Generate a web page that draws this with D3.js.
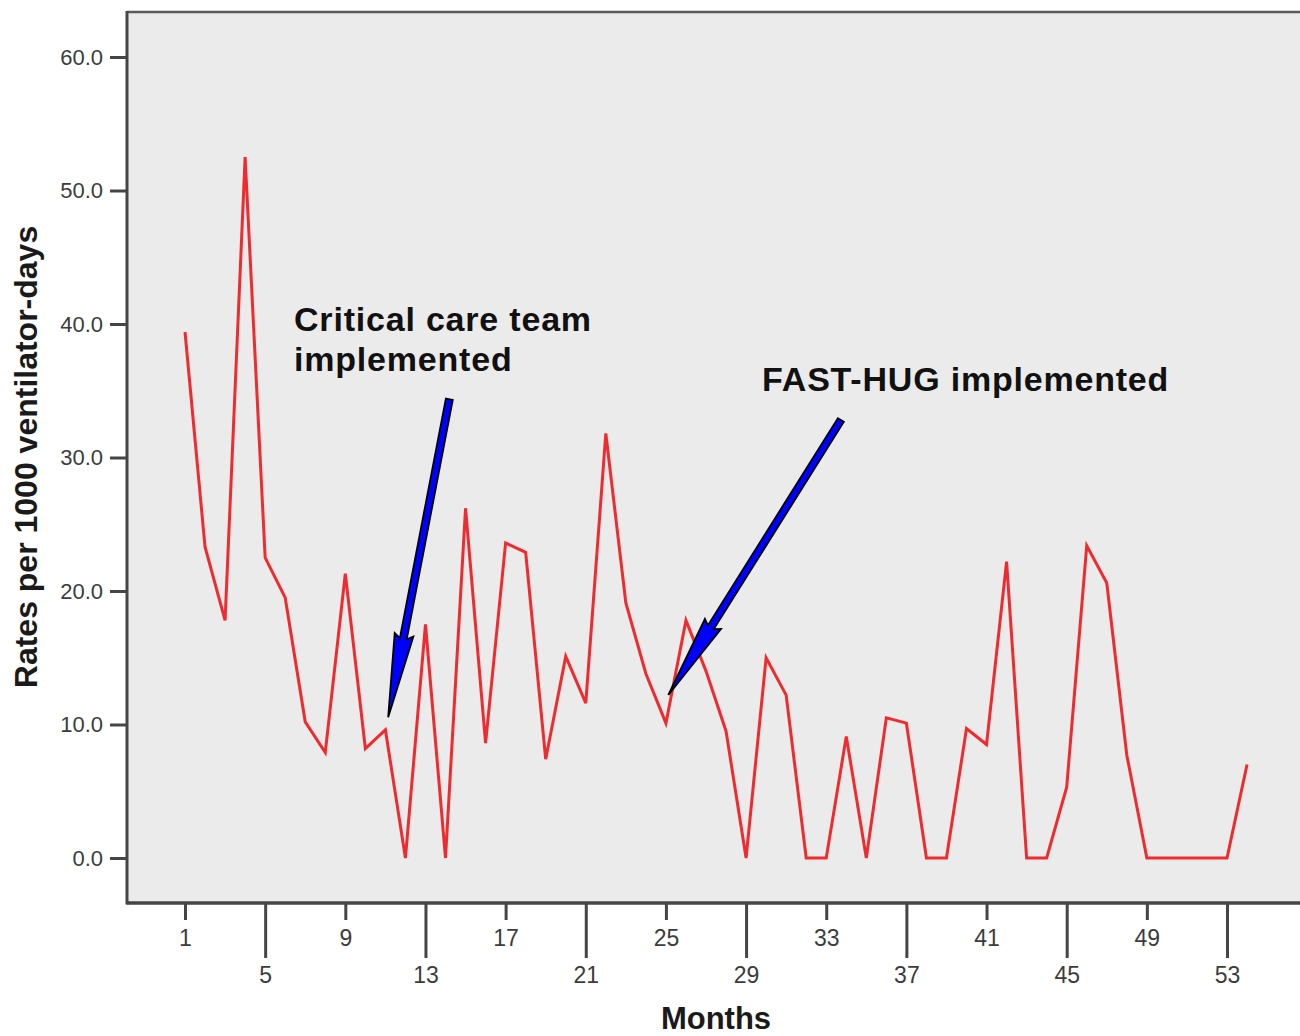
<!DOCTYPE html>
<html>
<head>
<meta charset="utf-8">
<script src="https://cdn.jsdelivr.net/npm/d3@7"></script>
<style>
  html, body { margin: 0; padding: 0; background: #ffffff; }
  svg { display: block; }
</style>
</head>
<body>
<svg id="chart" width="1300" height="1036"></svg>
<script>
// ---- data ----
const months = d3.range(1, 55);
const rates = [
  39.4, 23.3, 17.8, 52.5, 22.5, 19.5, 10.2, 7.9, 21.3, 8.2,
  9.6, 0.0, 17.5, 0.0, 26.2, 8.6, 23.6, 22.9, 7.4, 15.1,
  11.6, 31.8, 19.1, 13.8, 10.1, 17.8, 14.0, 9.5, 0.0, 15.0,
  12.2, 0.0, 0.0, 9.1, 0.0, 10.5, 10.1, 0.0, 0.0, 9.7,
  8.5, 22.2, 0.0, 0.0, 5.3, 23.4, 20.6, 7.7, 0.0, 0.0,
  0.0, 0.0, 0.0, 7.0
];
const yTicks = [0, 10, 20, 30, 40, 50, 60];
const xTicksShort = [1, 9, 17, 25, 33, 41, 49];
const xTicksLong = [5, 13, 21, 29, 37, 45, 53];
const xTitle = "Months";
const yTitle = "Rates per 1000 ventilator-days";
const annotations = [
  { lines: ["Critical care team", "implemented"], month: 6.44, value: 39.5,
    arrowFrom: [14.19, 34.36], arrowTo: [11.14, 10.54] },
  { lines: ["FAST-HUG implemented"], month: 29.8, value: 35.0,
    arrowFrom: [33.73, 32.81], arrowTo: [25.12, 12.21] }
];

// ---- layout ----
const W = 1300, H = 1036;
const plot = { left: 127, top: 12, right: 1300, bottom: 903 };
const svg = d3.select("#chart");

const x = d3.scaleLinear().domain([1, 53]).range([185, 1227]);
const y = d3.scaleLinear().domain([0, 60]).range([858, 57]);

const axisColor = "#454545";
const labelColor = "#3c3c3c";
const fontFam = "'Liberation Sans', Arial, sans-serif";

// plot background
svg.append("rect")
  .attr("x", plot.left).attr("y", plot.top)
  .attr("width", plot.right - plot.left).attr("height", plot.bottom - plot.top)
  .attr("fill", "#ebebeb");

// top border
svg.append("line")
  .attr("x1", plot.left).attr("x2", plot.right)
  .attr("y1", plot.top).attr("y2", plot.top)
  .attr("stroke", "#5a5a5a").attr("stroke-width", 2.5);

// Y axis
const yAxis = d3.axisLeft(y).tickValues(yTicks).tickFormat(d3.format(".1f"))
  .tickSize(17).tickPadding(7);
const gy = svg.append("g").attr("transform", `translate(${plot.left},0)`).call(yAxis);
gy.select(".domain").remove();
gy.selectAll(".tick line").attr("stroke", axisColor).attr("stroke-width", 3);
gy.selectAll(".tick text").attr("fill", labelColor)
  .style("font-family", fontFam).style("font-size", "22px");
svg.append("line")
  .attr("x1", plot.left).attr("x2", plot.left)
  .attr("y1", plot.top - 1).attr("y2", plot.bottom + 1.5)
  .attr("stroke", axisColor).attr("stroke-width", 3);

// X axis (two staggered rows)
const xAxisShort = d3.axisBottom(x).tickValues(xTicksShort).tickFormat(d3.format("d"))
  .tickSize(17).tickPadding(10);
const gxs = svg.append("g").attr("transform", `translate(0,${plot.bottom})`).call(xAxisShort);
gxs.select(".domain").remove();
const xAxisLong = d3.axisBottom(x).tickValues(xTicksLong).tickFormat(d3.format("d"))
  .tickSize(55).tickPadding(9);
const gxl = svg.append("g").attr("transform", `translate(0,${plot.bottom})`).call(xAxisLong);
gxl.select(".domain").remove();
[gxs, gxl].forEach(g => {
  g.selectAll(".tick line").attr("stroke", axisColor).attr("stroke-width", 3);
  g.selectAll(".tick text").attr("fill", labelColor)
    .style("font-family", fontFam).style("font-size", "23px");
});
svg.append("line")
  .attr("x1", plot.left).attr("x2", plot.right)
  .attr("y1", plot.bottom).attr("y2", plot.bottom)
  .attr("stroke", axisColor).attr("stroke-width", 3.5);

// line series
const line = d3.line().x((d, i) => x(months[i])).y(d => y(d));
svg.append("path")
  .datum(rates)
  .attr("d", line)
  .attr("fill", "none")
  .attr("stroke", "#ef2b2f")
  .attr("stroke-width", 3)
  .attr("stroke-linejoin", "miter");

// annotations
function arrowPolygon(x0, y0, x1, y1) {
  const dx = x1 - x0, dy = y1 - y0;
  const L = Math.hypot(dx, dy);
  const ux = dx / L, uy = dy / L;
  const nx = -uy, ny = ux;
  const headLen = 80, shaftHalf = 3.5, headHalf = 9.5;
  const bx = x1 - ux * headLen, by = y1 - uy * headLen;
  const pts = [
    [x0 + nx * shaftHalf, y0 + ny * shaftHalf],
    [bx + nx * shaftHalf, by + ny * shaftHalf],
    [bx + nx * headHalf - ux * 4, by + ny * headHalf - uy * 4],
    [x1, y1],
    [bx - nx * headHalf - ux * 4, by - ny * headHalf - uy * 4],
    [bx - nx * shaftHalf, by - ny * shaftHalf],
    [x0 - nx * shaftHalf, y0 - ny * shaftHalf]
  ];
  return pts.map(p => p.join(",")).join(" ");
}

annotations.forEach((a) => {
  const tx = x(a.month);
  const ty = y(a.value) + (a.lines.length === 1 ? 0 : 0);
  const t = svg.append("text")
    .attr("x", tx).attr("y", a.lines.length === 1 ? 391 : ty)
    .attr("fill", "#111")
    .style("font-family", fontFam).style("font-weight", "bold").style("font-size", "34px")
    .style("letter-spacing", "0.8px");
  a.lines.forEach((ln, i) => {
    t.append("tspan").attr("x", tx).attr("dy", i === 0 ? 0 : 40).text(ln);
  });
  svg.append("polygon")
    .attr("points", arrowPolygon(x(a.arrowFrom[0]), y(a.arrowFrom[1]), x(a.arrowTo[0]), y(a.arrowTo[1])))
    .attr("fill", "#0000ff")
    .attr("stroke", "#000")
    .attr("stroke-width", 1.8)
    .attr("stroke-linejoin", "miter");
});

// axis titles
svg.append("text")
  .attr("x", 716).attr("y", 1029)
  .attr("text-anchor", "middle")
  .attr("fill", "#1a1a1a")
  .style("font-family", fontFam).style("font-weight", "bold").style("font-size", "31px")
  .text(xTitle);

svg.append("text")
  .attr("transform", "translate(37,457) rotate(-90)")
  .attr("text-anchor", "middle")
  .attr("fill", "#1a1a1a")
  .style("font-family", fontFam).style("font-weight", "bold").style("font-size", "32px")
  .text(yTitle);
</script>
</body>
</html>
